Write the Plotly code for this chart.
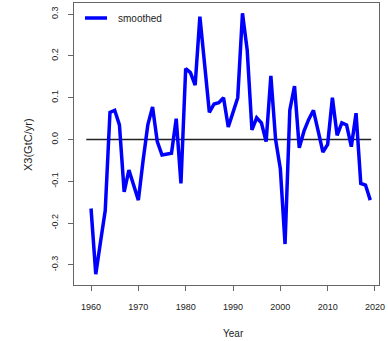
import plotly.graph_objects as go

years = list(range(1960, 2020))
smoothed = [
    -0.165, -0.322, -0.245, -0.170, 0.065, 0.070, 0.035, -0.125, -0.073, -0.110,
    -0.145, -0.050, 0.035, 0.078, -0.005, -0.037, -0.036, -0.033, 0.050, -0.105,
    0.170, 0.160, 0.130, 0.294, 0.180, 0.065, 0.085, 0.088, 0.100, 0.030,
    0.065, 0.100, 0.302, 0.214, 0.023, 0.052, 0.040, -0.005, 0.152, 0.000,
    -0.070, -0.250, 0.070, 0.128, -0.020, 0.020, 0.048, 0.070, 0.020, -0.030,
    -0.012, 0.100, 0.010, 0.040, 0.035, -0.017, 0.063, -0.105, -0.109, -0.145,
]
zero_x = [1959, 2019.2]
zero_y = [0, 0]
x_ticks = [1960, 1970, 1980, 1990, 2000, 2010, 2020]
y_ticks = [-0.3, -0.2, -0.1, 0.0, 0.1, 0.2, 0.3]
y_ticktext = ["-0.3", "-0.2", "-0.1", "0.0", "0.1", "0.2", "0.3"]

W, H = 388, 341
L, R, T, B = 74, 9, 3, 56
pw, ph = W - L - R, H - T - B

def px(x):
    return (x - L) / pw

def py(y):
    return 1 - (y - T) / ph

font = "Liberation Sans, Arial, sans-serif"

fig = go.Figure()
fig.add_trace(go.Scatter(x=zero_x, y=zero_y, mode="lines",
                         line=dict(color="#222222", width=1.4), showlegend=False,
                         hoverinfo="skip"))
fig.add_trace(go.Scatter(x=years, y=smoothed, mode="lines", name="smoothed",
                         line=dict(color="#0000ff", width=3.5), showlegend=False))

fig.update_layout(
    width=W, height=H,
    margin=dict(l=L, r=R, t=T, b=B, pad=0),
    paper_bgcolor="white", plot_bgcolor="white",
    font=dict(family=font, size=9, color="#222222"),
    xaxis=dict(range=[1956.4, 2020.85], tickvals=x_ticks, showgrid=False,
               zeroline=False, showline=True, mirror=True, linecolor="#666666",
               linewidth=1, ticks="outside", ticklen=5, tickcolor="#666666",
               tickfont=dict(size=9), ticklabelstandoff=8),
    yaxis=dict(range=[-0.348, 0.3266], tickvals=y_ticks, ticktext=y_ticktext,
               tickangle=-90, showgrid=False, zeroline=False, showline=True,
               mirror=True, linecolor="#666666", linewidth=1, ticks="outside",
               ticklen=5, tickcolor="#666666", tickfont=dict(size=9),
               ticklabelstandoff=6),
    shapes=[dict(type="line", xref="paper", yref="paper",
                 x0=px(85), x1=px(107), y0=py(18), y1=py(18),
                 line=dict(color="#0000ff", width=3.5))],
    annotations=[
        dict(text="smoothed", xref="paper", yref="paper", x=px(116), y=py(18),
             xanchor="left", yanchor="middle", showarrow=False,
             font=dict(size=10)),
        dict(text="X3(GtC/yr)", xref="paper", yref="paper", x=px(28), y=py(144),
             xanchor="center", yanchor="middle", textangle=-90, showarrow=False,
             font=dict(size=11)),
        dict(text="Year", xref="paper", yref="paper", x=px(233), y=py(333),
             xanchor="center", yanchor="middle", showarrow=False,
             font=dict(size=10)),
    ],
)

fig.write_html("out.html")
